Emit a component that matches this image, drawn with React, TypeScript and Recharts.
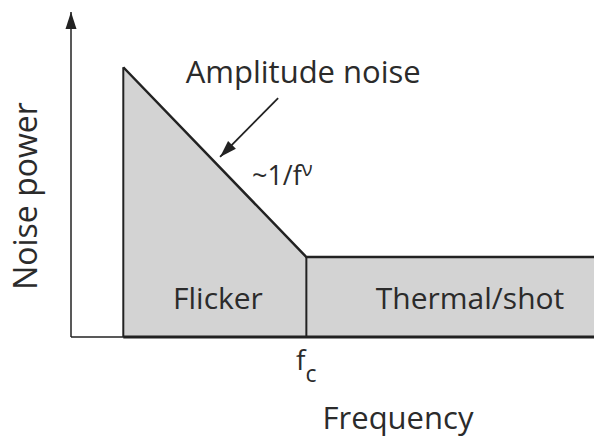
import { Area, ComposedChart, ReferenceDot, ReferenceLine, XAxis, YAxis } from "recharts";

// frequency axis and noise power, both in arbitrary 0-100 units
const freq = [10, 45, 100];
const power = [83, 24.6, 24.6];
const fc = 45;
const fStart = freq[0];
const fEnd = freq[freq.length - 1];
const floor = power[power.length - 1];

// annotation anchors (data units)
const arrowFrom = { x: 39.6, y: 73.5 };
const arrowTo = { x: 28.5, y: 55.4 };
const titlePos = { x: 44.4, y: 78.2 };
const slopePos = { x: 34.6, y: 46.8 };
const flickerPos = { x: 28.1, y: 8.6 };
const thermalPos = { x: 76.3, y: 8.6 };

const data = freq.map((f, i) => ({ f, p: power[i] }));

const FONT = "'Open Sans', sans-serif";
const INK = "#222";
const TEXT = "#2b2b2b";

function Txt(props: any, text: React.ReactNode, size: number, anchor = "middle") {
  return (
    <text x={props.cx} y={props.cy} fontFamily={FONT} fontSize={size} fill={TEXT} textAnchor={anchor}>
      {text}
    </text>
  );
}

function ArrowHead({ cx, cy, dx, dy }: { cx: number; cy: number; dx: number; dy: number }) {
  const len = Math.hypot(dx, dy);
  const ux = dx / len;
  const uy = dy / len;
  const L = 17;
  const W = 5.5;
  const bx = cx - ux * L;
  const by = cy - uy * L;
  const pts = [
    [cx, cy],
    [bx - uy * W, by + ux * W],
    [bx + uy * W, by - ux * W],
  ];
  return <polygon points={pts.map((p) => p.join(",")).join(" ")} fill={INK} />;
}

function FcTick({ x, y }: any) {
  return (
    <text x={x} y={y + 25} fontFamily={FONT} fontSize={28} fill={TEXT} textAnchor="middle">
      <tspan>f</tspan>
      <tspan fontSize={23} dy={12}>
        c
      </tspan>
    </text>
  );
}

export default function App() {
  return (
    <div style={{ position: "absolute", left: 0, top: 0, width: 594, height: 438, background: "#fff" }}>
      <ComposedChart width={594} height={438} data={data} margin={{ top: 12, right: 0, bottom: 0, left: 0 }}>
        <XAxis
          dataKey="f"
          type="number"
          domain={[0, 100]}
          ticks={[fc]}
          tick={<FcTick />}
          tickLine={false}
          axisLine={{ stroke: INK, strokeWidth: 1.5 }}
          height={101}
          label={{
            content: (props: any) => {
              const vb = props.viewBox;
              return (
                <text x={vb.x + 327} y={vb.y + 92} fontFamily={FONT} fontSize={31} fill={TEXT} textAnchor="middle">
                  Frequency
                </text>
              );
            },
          }}
        />
        <YAxis
          type="number"
          domain={[0, 100]}
          tick={false}
          tickLine={false}
          axisLine={{ stroke: INK, strokeWidth: 1.5 }}
          width={71}
          label={{
            content: () => (
              <text
                x={37}
                y={196}
                transform="rotate(-90, 37, 196)"
                fontFamily={FONT}
                fontSize={32}
                fill={TEXT}
                textAnchor="middle"
              >
                Noise power
              </text>
            ),
          }}
        />
        <Area
          dataKey="p"
          type="linear"
          baseValue={0}
          fill="#d3d3d3"
          fillOpacity={1}
          stroke={INK}
          strokeWidth={2.5}
          isAnimationActive={false}
        />
        <ReferenceLine segment={[{ x: fStart, y: 0 }, { x: fStart, y: power[0] }]} stroke={INK} strokeWidth={2} />
        <ReferenceLine segment={[{ x: fc, y: 0 }, { x: fc, y: floor }]} stroke={INK} strokeWidth={2} />
        <ReferenceLine segment={[{ x: fStart, y: 0 }, { x: fEnd, y: 0 }]} stroke={INK} strokeWidth={3} />
        <ReferenceLine segment={[arrowFrom, arrowTo]} stroke={INK} strokeWidth={1.8} />
        <ReferenceDot
          x={arrowTo.x}
          y={arrowTo.y}
          r={0}
          ifOverflow="visible"
          shape={(p: any) => <ArrowHead cx={p.cx} cy={p.cy} dx={-58} dy={59} />}
        />
        <ReferenceDot
          x={0}
          y={100}
          r={0}
          ifOverflow="visible"
          shape={(p: any) => <ArrowHead cx={p.cx} cy={p.cy} dx={0} dy={-1} />}
        />
        <ReferenceDot x={titlePos.x} y={titlePos.y} r={0} ifOverflow="visible" shape={(p: any) => Txt(p, "Amplitude noise", 31)} />
        <ReferenceDot
          x={slopePos.x}
          y={slopePos.y}
          r={0}
          ifOverflow="visible"
          shape={(p: any) =>
            Txt(
              p,
              <>
                <tspan>~1/f</tspan>
                <tspan fontSize={20} dy={-9}>
                  ν
                </tspan>
              </>,
              27,
              "start",
            )
          }
        />
        <ReferenceDot x={flickerPos.x} y={flickerPos.y} r={0} ifOverflow="visible" shape={(p: any) => Txt(p, "Flicker", 30)} />
        <ReferenceDot x={thermalPos.x} y={thermalPos.y} r={0} ifOverflow="visible" shape={(p: any) => Txt(p, "Thermal/shot", 30)} />
      </ComposedChart>
    </div>
  );
}
